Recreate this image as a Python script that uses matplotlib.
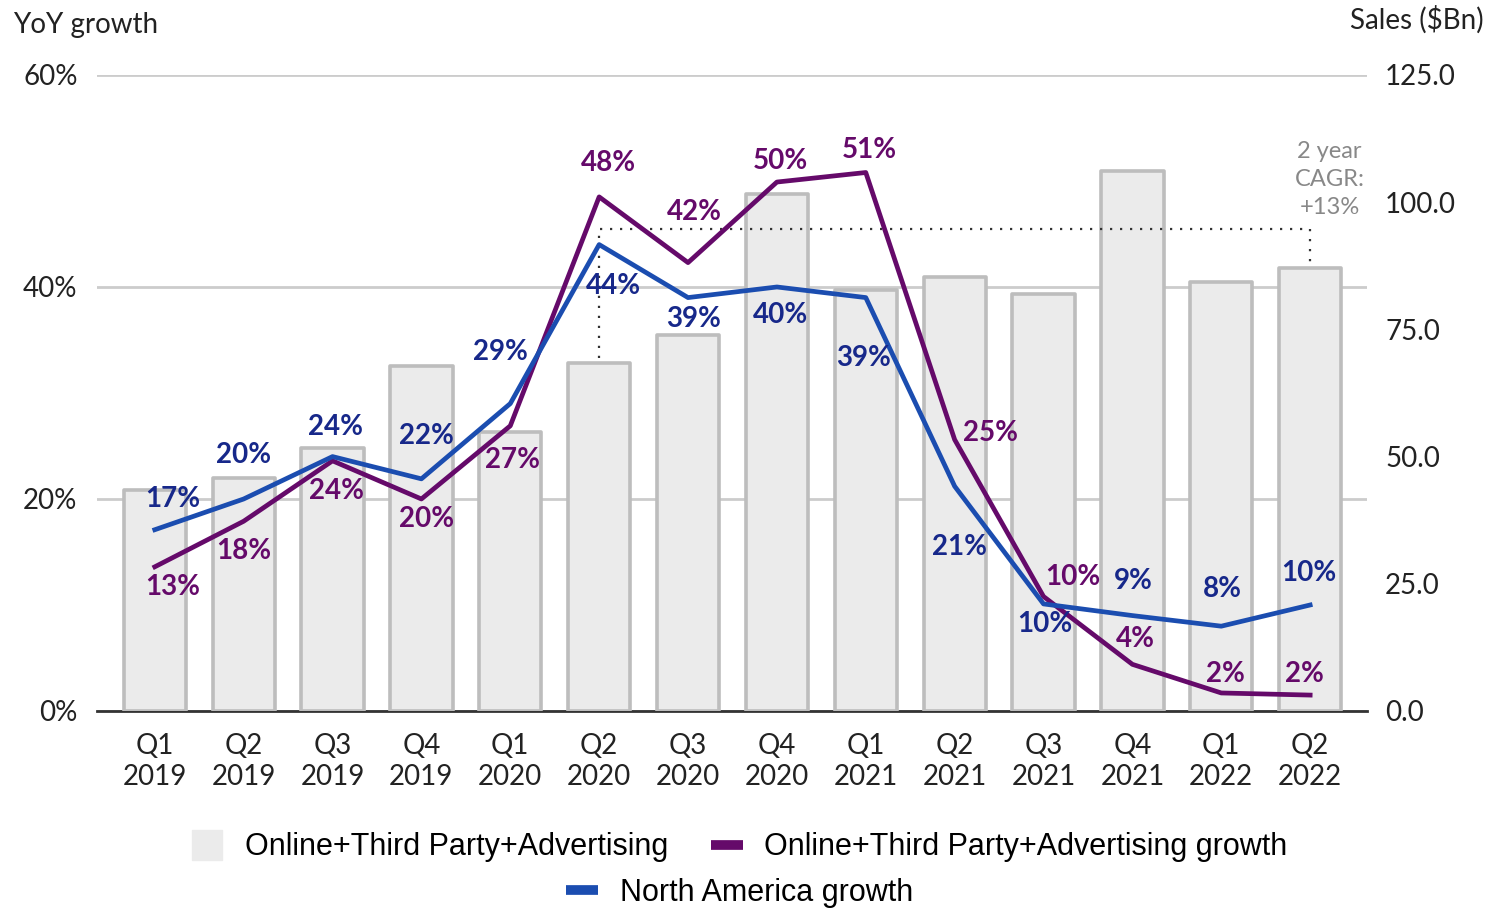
import numpy as np
import matplotlib.pyplot as plt
from matplotlib.lines import Line2D
from matplotlib import font_manager

# data
quarters = ["Q1\n2019", "Q2\n2019", "Q3\n2019", "Q4\n2019",
            "Q1\n2020", "Q2\n2020", "Q3\n2020", "Q4\n2020",
            "Q1\n2021", "Q2\n2021", "Q3\n2021", "Q4\n2021",
            "Q1\n2022", "Q2\n2022"]
sales = [43.4, 45.8, 51.7, 67.8, 54.8, 68.4, 73.9, 101.6,
         82.7, 85.3, 82.0, 106.1, 84.3, 87.1]
online_growth = [13.6, 17.9, 23.6, 20.0, 26.9, 48.5, 42.3, 49.9,
                 50.8, 25.6, 10.8, 4.4, 1.7, 1.5]
na_growth = [17.1, 20.0, 24.0, 21.9, 29.0, 44.0, 39.0, 40.0,
             39.0, 21.2, 10.1, 9.0, 8.0, 10.0]
online_labels = [13, 18, 24, 20, 27, 48, 42, 50, 51, 25, 10, 4, 2, 2]
na_labels = [17, 20, 24, 22, 29, 44, 39, 40, 39, 21, 10, 9, 8, 10]

# label offsets in pixels (dx, dy)
online_off = [(18, -20), (0, -30), (4, -30), (5, -20), (2, -34), (9, 34),
              (6, 51), (4, 21), (4, 23), (36, 7), (29, 20), (3, 25),
              (4, 19), (-6, 21)]
na_off = [(18, 31), (0, 44), (3, 30), (5, 43), (-10, 52), (14, -41),
          (6, -21), (4, -28), (-2, -60), (5, -61), (1, -20), (1, 35),
          (1, 37), (-1, 32)]

purple = "#650a6a"
blue_line = "#1b4db0"
blue_text = "#17288a"
bar_fill = "#ebebeb"
bar_edge = "#bdbdbd"

names = {f.name for f in font_manager.fontManager.ttflist}
main_font = "Lato" if "Lato" in names else "DejaVu Sans"
legend_font = "Liberation Sans Narrow" if "Liberation Sans Narrow" in names else "Liberation Sans"
plt.rcParams["font.family"] = [main_font, "DejaVu Sans"]

fig = plt.figure(figsize=(14.88, 9.10), dpi=100)
ax = fig.add_axes([0.0652, 0.2187, 0.8535, 0.6989])
x = np.arange(len(quarters))

# base axis: percent scale + grid
ax.set_ylim(0, 60)
ax.set_xlim(-0.65, 13.64)
ax.set_yticks([0, 20, 40, 60])
ax.set_yticklabels(["0%", "20%", "40%", "60%"])
ax.grid(axis="y", color="#cccccc", linewidth=2)
ax.set_axisbelow(True)
ax.set_xticks(x)
ax.set_xticklabels(quarters, linespacing=1.25)
ax.tick_params(axis="both", length=0, labelsize=20, colors="#222222")
ax.tick_params(axis="y", pad=14)
ax.tick_params(axis="x", pad=16)
for s in ["left", "right", "top"]:
    ax.spines[s].set_visible(False)
ax.spines["bottom"].set_color("#333333")
ax.spines["bottom"].set_linewidth(2)

# bars on the sales scale
axr = ax.twinx()
axr.bar(x, sales, width=0.70, color=bar_fill, edgecolor=bar_edge,
        linewidth=2.6, joinstyle="round")
axr.set_ylim(0, 125)
axr.set_yticks([0, 25, 50, 75, 100, 125])
axr.set_yticklabels([f"{v:.1f}" for v in [0, 25, 50, 75, 100, 125]])
axr.tick_params(axis="y", length=0, labelsize=20, colors="#222222", pad=13)
for s in axr.spines.values():
    s.set_visible(False)

# dotted CAGR bracket
level = 94.7
axr.plot([5, 5, 13, 13], [sales[5] + 1, level, level, sales[13] + 1],
         color="#333333", linestyle=(0, (1, 3.5)), linewidth=1.6)
axr.text(13.22, 104.4, "2 year\nCAGR:\n+13%", ha="center", va="center",
         fontsize=17, color="#888888", linespacing=1.42)

# growth lines on top
axl = ax.twinx()
axl.set_ylim(0, 60)
axl.set_yticks([])
for s in axl.spines.values():
    s.set_visible(False)
axl.plot(x, online_growth, color=purple, linewidth=3.4)
axl.plot(x, na_growth, color=blue_line, linewidth=3.4)
for i in range(len(x)):
    axl.annotate(f"{online_labels[i]}%", (x[i], online_growth[i]),
                 xytext=online_off[i], textcoords="offset pixels",
                 ha="center", va="center", fontsize=20, fontweight="bold",
                 color=purple)
    axl.annotate(f"{na_labels[i]}%", (x[i], na_growth[i]),
                 xytext=na_off[i], textcoords="offset pixels",
                 ha="center", va="center", fontsize=20, fontweight="bold",
                 color=blue_text)

fig.text(0.009, 0.973, "YoY growth", ha="left", va="center", fontsize=20,
         color="#222222")
fig.text(0.997, 0.979, "Sales ($Bn)", ha="right", va="center", fontsize=20,
         color="#222222")

# legend
h1 = [Line2D([], [], marker="s", markersize=21, color=bar_fill,
             linestyle="None"),
      Line2D([], [], color=purple, linewidth=7, solid_capstyle="butt")]
fig.legend(h1, ["Online+Third Party+Advertising",
                "Online+Third Party+Advertising growth"],
           loc="center", bbox_to_anchor=(0.497, 0.069), ncol=2,
           frameon=False, handlelength=1.05, handletextpad=0.7,
           columnspacing=1.4,
           prop={"family": legend_font, "size": 22})
h2 = [Line2D([], [], color=blue_line, linewidth=7, solid_capstyle="butt")]
fig.legend(h2, ["North America growth"], loc="center",
           bbox_to_anchor=(0.497, 0.019), frameon=False, handlelength=1.05,
           handletextpad=0.7,
           prop={"family": legend_font, "size": 22})

fig.savefig("out.png", dpi=100)
